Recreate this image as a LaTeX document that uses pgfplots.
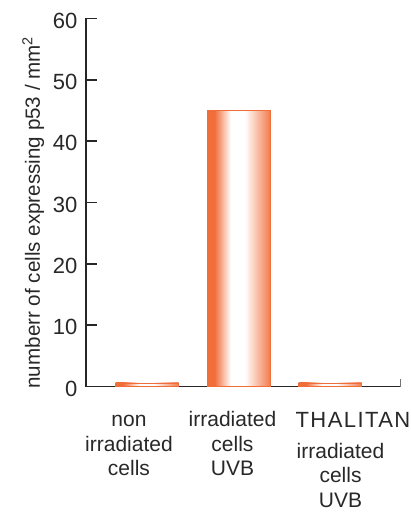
\documentclass[border=0pt]{standalone}
\usepackage{pgfplots}
\pgfplotsset{compat=1.18}
\usepackage{fontspec}
\setmainfont{Liberation Sans}
\definecolor{bor}{RGB}{240,110,58}
\definecolor{txt}{RGB}{40,40,40}
\pgfdeclarehorizontalshading{barshade}{100bp}{color(0bp)=(bor); color(25bp)=(bor); color(31bp)=(bor); color(44bp)=(white); color(55bp)=(white); color(75bp)=(bor!90); color(100bp)=(bor!90)}
\newcommand{\lf}{\fontsize{21}{25}\selectfont}
\begin{document}
\begin{tikzpicture}[x=1pt,y=1pt]
\useasboundingbox (-86,-126.5) rectangle (325,386.5);
\begin{axis}[
  at={(0,0)}, anchor=south west,
  width=314pt, height=368pt, scale only axis,
  xmin=0.3333, xmax=3.765, ymin=0, ymax=60,
  axis x line*=bottom, axis y line*=left,
  axis line style={-, draw=black!85, line width=1.4pt},
  ytick={0,10,...,60}, xtick=\empty,
  tick align=inside, major tick length=11pt,
  tick style={black!85, line width=1.4pt},
  yticklabel style={font=\fontsize{22}{26}\selectfont, text=txt, inner sep=0pt, xshift=-8.5pt, yshift=-2pt},
  /pgf/number format/assume math mode=true,
  ybar, bar width=63pt, bar shift=0pt,
  clip=false,
]
\addplot[draw=bor, line width=0.6pt, shade, shading=barshade] coordinates {(1,0.6)};
\addplot[draw=bor, line width=0.6pt, shade, shading=barshade] coordinates {(2,45)};
\addplot[draw=bor, line width=0.6pt, shade, shading=barshade] coordinates {(3,0.6)};
\draw[black!55, line width=1pt] (axis cs:3.765,0) -- ([yshift=8pt]axis cs:3.765,0);
\end{axis}
\node[rotate=90, anchor=base, font=\fontsize{20.6}{25}\selectfont, text=txt, inner sep=0pt] at (-46,174) {numberr of cells expressing p53 / mm\textsuperscript{2}};
\begin{scope}[every node/.style={anchor=base, font=\lf, text=txt, inner sep=0pt}]
\node at (43,-40) {non};
\node at (43,-64.5) {irradiated};
\node at (43,-89) {cells};
\node at (146.5,-40) {irradiated};
\node at (146.5,-64.5) {cells};
\node at (146.5,-89) {UVB};
\node[font=\fontsize{22}{26}\selectfont\addfontfeature{LetterSpace=6.5}] at (267,-41) {THALITAN};
\node at (254.5,-71.5) {irradiated};
\node at (254.5,-96) {cells};
\node at (254.5,-120.5) {UVB};
\end{scope}
\end{tikzpicture}
\end{document}
